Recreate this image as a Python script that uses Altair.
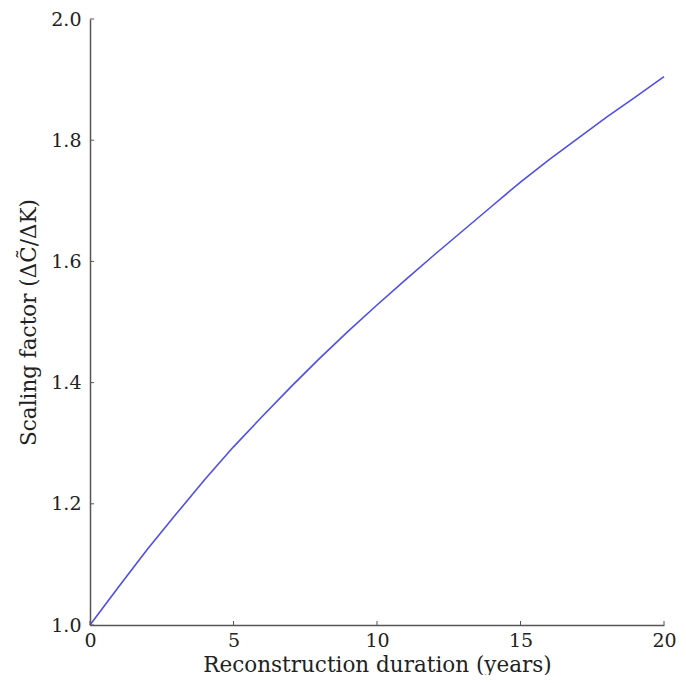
import altair as alt
import pandas as pd

years = list(range(0, 21))
scaling = [1.000, 1.063, 1.125, 1.183, 1.240, 1.294, 1.344, 1.393, 1.440, 1.485,
           1.528, 1.570, 1.611, 1.651, 1.691, 1.731, 1.768, 1.803, 1.838, 1.871, 1.905]

x_ticks = [0, 5, 10, 15, 20]
y_ticks = [1.0, 1.2, 1.4, 1.6, 1.8, 2.0]

df = pd.DataFrame({"x": years, "y": scaling})
dfx = pd.DataFrame({"x": x_ticks})
dfy = pd.DataFrame({"y": y_ticks})

W, H = 574, 606
FONT = "DejaVu Serif"

xscale = alt.Scale(domain=[0, 20], nice=False, zero=False)
yscale = alt.Scale(domain=[1.0, 2.0], nice=False, zero=False)

line = alt.Chart(df).mark_line(color="#4f4fe8", strokeWidth=1.6).encode(
    x=alt.X("x:Q", scale=xscale,
            axis=alt.Axis(title="Reconstruction duration (years)", values=x_ticks,
                          ticks=False, grid=False, labelPadding=6, titlePadding=4,
                          labelFlush=False, format="d")),
    y=alt.Y("y:Q", scale=yscale,
            axis=alt.Axis(title="Scaling factor (\u0394C\u0303/\u0394K)", values=y_ticks,
                          ticks=False, grid=False, labelPadding=9, titlePadding=10,
                          labelFlush=False, format=".1f")),
)

xt = alt.Chart(dfx).mark_rule(color="#555555", strokeWidth=1).encode(
    x=alt.X("x:Q", scale=xscale), y=alt.value(H), y2=alt.value(H - 4)
)
yt = alt.Chart(dfy).mark_rule(color="#555555", strokeWidth=1).encode(
    y=alt.Y("y:Q", scale=yscale), x=alt.value(0), x2=alt.value(4)
)

chart = alt.layer(line, xt, yt).properties(
    width=W, height=H,
    autosize=alt.AutoSizeParams(type="none"),
    padding={"left": 82, "top": 11, "right": 14, "bottom": 50},
).configure_view(stroke=None).configure_axis(
    domainColor="#555555", domainWidth=1.5,
    labelFont=FONT, titleFont=FONT, labelFontSize=19, titleFontSize=21.5,
    labelColor="#222222", titleColor="#222222", titleFontWeight="normal",
)

chart.save("out.html", embed_options={"renderer": "svg", "actions": False})
